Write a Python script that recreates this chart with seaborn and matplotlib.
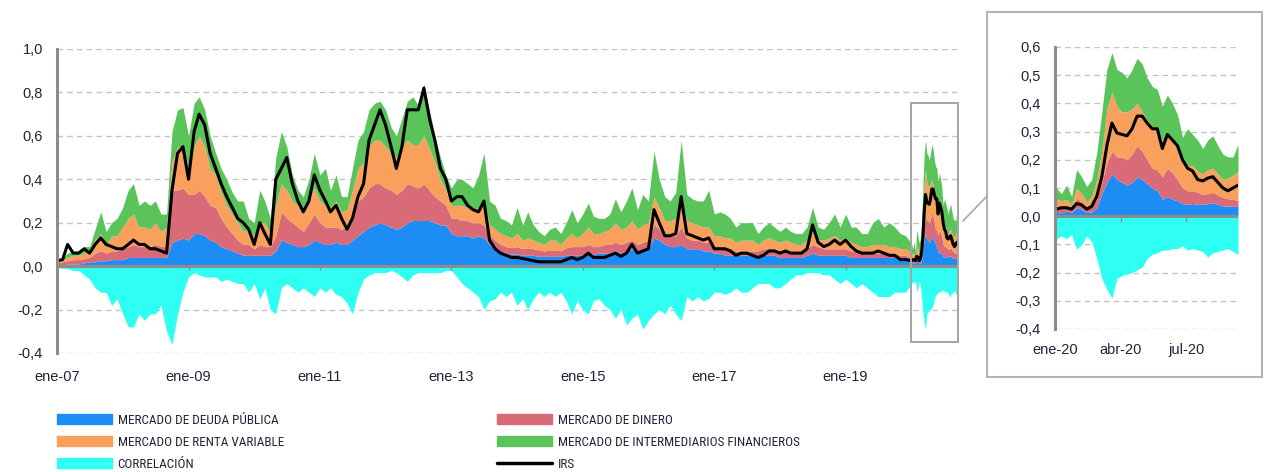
import numpy as np
import pandas as pd
import matplotlib
matplotlib.use("Agg")
import matplotlib.pyplot as plt
import matplotlib.dates as mdates
from matplotlib import font_manager as fm
from matplotlib.patches import Rectangle, Patch
from matplotlib.lines import Line2D
from matplotlib.ticker import FuncFormatter, MultipleLocator
import seaborn as sns

# monthly values 2007-2019 (one row per year)
deuda_m = [
    .005, .005, .01, .01, .01, .015, .02, .02, .025, .025, .03, .03,
    .03, .04, .04, .04, .04, .04, .04, .04, .04, .11, .12, .13,
    .12, .15, .15, .14, .12, .11, .09, .08, .07, .06, .05, .05,
    .05, .05, .05, .05, .07, .12, .11, .10, .09, .09, .10, .12,
    .11, .10, .10, .11, .10, .10, .12, .14, .16, .18, .19, .20,
    .19, .18, .17, .18, .20, .21, .21, .21, .21, .20, .19, .19,
    .15, .14, .14, .14, .13, .14, .13, .10, .08, .07, .06, .055,
    .055, .05, .05, .05, .045, .045, .045, .045, .045, .05, .05, .05,
    .05, .055, .055, .06, .06, .06, .07, .06, .07, .08, .06, .07,
    .08, .13, .12, .10, .09, .09, .10, .08, .08, .08, .07, .07,
    .06, .06, .05, .05, .05, .05, .05, .05, .05, .05, .05, .05,
    .04, .04, .04, .04, .04, .05, .06, .05, .05, .05, .05, .05,
    .05, .04, .04, .04, .04, .04, .04, .04, .04, .04, .03, .03,
]
dinero_m = [
    .01, .015, .015, .02, .02, .02, .02, .04, .045, .035, .04, .04,
    .05, .05, .06, .05, .05, .05, .06, .05, .05, .24, .23, .23,
    .21, .18, .20, .18, .16, .16, .13, .10, .08, .06, .05, .05,
    .03, .05, .04, .04, .07, .13, .11, .10, .09, .07, .10, .12,
    .09, .08, .08, .07, .07, .08, .11, .16, .16, .18, .19, .18,
    .17, .17, .16, .17, .18, .16, .15, .17, .14, .12, .11, .09,
    .07, .08, .07, .07, .07, .06, .06, .04, .04, .03, .03, .03,
    .035, .03, .035, .03, .03, .025, .03, .03, .025, .035, .04, .04,
    .04, .045, .035, .03, .04, .04, .04, .04, .04, .04, .04, .04,
    .04, .06, .05, .04, .05, .05, .08, .05, .04, .04, .04, .04,
    .03, .03, .03, .03, .02, .02, .02, .02, .02, .03, .03, .03,
    .03, .03, .03, .03, .03, .03, .04, .04, .03, .03, .03, .03,
    .03, .03, .03, .02, .02, .02, .02, .02, .02, .02, .02, .02,
]
renta_m = [
    .01, .01, .015, .02, .02, .025, .03, .06, .08, .04, .07, .07,
    .10, .13, .14, .09, .09, .08, .10, .07, .09, .13, .20, .19,
    .12, .22, .25, .23, .17, .15, .12, .10, .09, .08, .06, .07,
    .06, .10, .11, .06, .14, .13, .13, .10, .10, .08, .10, .12,
    .10, .10, .09, .12, .08, .08, .12, .15, .16, .19, .20, .20,
    .19, .17, .17, .20, .20, .19, .20, .22, .19, .16, .10, .07,
    .06, .06, .07, .06, .06, .07, .11, .05, .05, .05, .05, .045,
    .06, .04, .045, .04, .035, .03, .045, .045, .03, .045, .06, .04,
    .06, .08, .06, .06, .06, .07, .09, .07, .07, .09, .07, .08,
    .08, .13, .10, .07, .07, .08, .11, .08, .08, .07, .07, .07,
    .05, .05, .05, .05, .04, .05, .05, .05, .03, .04, .05, .04,
    .04, .05, .04, .03, .03, .04, .06, .03, .04, .05, .06, .04,
    .05, .04, .03, .03, .03, .04, .04, .04, .03, .03, .03, .03,
]
interm_m = [
    .005, .01, .02, .02, .02, .03, .02, .05, .10, .06, .06, .08,
    .09, .13, .14, .10, .12, .11, .10, .08, .06, .14, .17, .18,
    .15, .20, .18, .17, .15, .10, .11, .12, .10, .10, .14, .05,
    .06, .15, .10, .07, .22, .24, .20, .12, .07, .08, .10, .16,
    .12, .17, .08, .12, .07, .06, .10, .13, .14, .17, .17, .18,
    .17, .12, .10, .13, .18, .22, .18, .24, .18, .12, .10, .07,
    .08, .12, .12, .11, .10, .15, .22, .11, .11, .07, .07, .06,
    .12, .07, .12, .07, .05, .04, .05, .06, .05, .07, .11, .07,
    .09, .11, .08, .07, .06, .07, .11, .08, .12, .15, .09, .14,
    .10, .21, .13, .11, .09, .12, .29, .12, .11, .11, .12, .17,
    .10, .11, .11, .09, .07, .08, .08, .08, .05, .06, .07, .06,
    .05, .06, .05, .05, .05, .06, .11, .06, .05, .07, .10, .06,
    .11, .07, .08, .06, .06, .10, .12, .08, .11, .09, .07, .06,
]
correl_m = [
    -.005, -.01, -.01, -.02, -.02, -.04, -.06, -.10, -.12, -.12, -.18, -.15,
    -.22, -.28, -.28, -.22, -.25, -.22, -.22, -.18, -.30, -.36, -.22, -.12,
    -.05, -.03, -.04, -.05, -.05, -.05, -.07, -.06, -.07, -.08, -.08, -.12,
    -.08, -.15, -.10, -.20, -.22, -.10, -.08, -.10, -.12, -.10, -.12, -.14,
    -.10, -.12, -.10, -.13, -.14, -.17, -.22, -.12, -.06, -.04, -.03, -.03,
    -.03, -.02, -.03, -.05, -.07, -.04, -.03, -.03, -.03, -.03, -.03, -.02,
    -.02, -.05, -.08, -.10, -.12, -.14, -.20, -.16, -.15, -.12, -.14, -.12,
    -.18, -.15, -.20, -.15, -.12, -.14, -.12, -.14, -.12, -.16, -.22, -.16,
    -.20, -.22, -.16, -.15, -.18, -.20, -.24, -.20, -.27, -.24, -.22, -.29,
    -.25, -.22, -.20, -.22, -.18, -.22, -.25, -.14, -.16, -.14, -.16, -.15,
    -.12, -.12, -.13, -.12, -.10, -.12, -.12, -.10, -.08, -.08, -.08, -.10,
    -.10, -.08, -.06, -.04, -.04, -.03, -.03, -.03, -.04, -.04, -.06, -.08,
    -.06, -.08, -.10, -.08, -.10, -.12, -.14, -.14, -.14, -.12, -.12, -.12,
]
irs_m = [
    .025, .03, .10, .06, .06, .08, .06, .10, .13, .10, .09, .08,
    .08, .10, .12, .10, .10, .08, .08, .07, .06, .35, .52, .55,
    .40, .62, .70, .65, .52, .45, .38, .32, .27, .22, .20, .17,
    .10, .20, .15, .10, .40, .45, .50, .38, .30, .25, .30, .42,
    .35, .30, .25, .28, .22, .17, .22, .32, .38, .58, .65, .72,
    .65, .55, .45, .55, .72, .72, .72, .82, .68, .58, .45, .40,
    .30, .32, .32, .28, .26, .25, .30, .12, .08, .06, .05, .04,
    .04, .035, .03, .025, .02, .02, .02, .02, .02, .03, .04, .03,
    .04, .06, .04, .04, .04, .05, .06, .045, .06, .10, .06, .07,
    .08, .26, .20, .14, .14, .15, .32, .15, .14, .13, .12, .13,
    .08, .08, .08, .07, .05, .06, .06, .05, .04, .05, .07, .07,
    .06, .07, .06, .06, .06, .08, .19, .11, .09, .10, .12, .10,
    .12, .09, .07, .06, .06, .06, .07, .06, .05, .05, .03, .03,
]

# weekly values 2020 (zoomed panel)
deuda_w = [.013, .012, .018, .013, .03, .025, .013, .015, .03, .08, .12, .15,
           .13, .12, .11, .12, .14, .13, .115, .10, .09, .06, .07, .06, .055,
           .045, .042, .045, .042, .042, .045, .048, .042, .036, .036, .035, .035]
dinero_w = [.023, .018, .017, .012, .035, .025, .012, .02, .03, .04, .07, .08,
            .08, .09, .09, .10, .11, .10, .085, .07, .075, .08, .10, .095, .075,
            .055, .048, .045, .043, .036, .035, .037, .033, .03, .026, .025, .02]
renta_w = [.024, .025, .025, .015, .035, .03, .025, .035, .07, .11, .19, .21,
           .18, .16, .17, .16, .15, .14, .14, .15, .135, .13, .11, .115, .10,
           .09, .09, .09, .075, .072, .085, .085, .075, .064, .073, .085, .105]
interm_w = [.04, .025, .05, .03, .065, .06, .055, .06, .095, .14, .14, .14,
            .13, .14, .12, .14, .16, .17, .15, .14, .15, .12, .15, .13, .13,
            .09, .13, .11, .11, .09, .105, .115, .10, .09, .075, .065, .095]
correl_w = [-.08, -.07, -.08, -.065, -.117, -.10, -.07, -.09, -.15, -.22, -.26, -.29,
            -.22, -.21, -.205, -.20, -.19, -.18, -.15, -.135, -.13, -.12, -.12, -.115, -.115,
            -.105, -.12, -.115, -.12, -.125, -.145, -.13, -.125, -.12, -.115, -.125, -.135]
irs_w = [.025, .03, .03, .025, .045, .04, .025, .035, .07, .14, .25, .33,
         .295, .29, .285, .31, .355, .355, .33, .31, .31, .24, .29, .27, .25,
         .20, .17, .16, .13, .125, .135, .14, .12, .10, .09, .10, .11]

labels = ["MERCADO DE DEUDA PÚBLICA", "MERCADO DE DINERO",
          "MERCADO DE RENTA VARIABLE", "MERCADO DE INTERMEDIARIOS FINANCIEROS",
          "CORRELACIÓN", "IRS"]
main_ticks = ["2007-01-01", "2009-01-01", "2011-01-01", "2013-01-01",
              "2015-01-01", "2017-01-01", "2019-01-01"]
main_ticklabels = ["ene-07", "ene-09", "ene-11", "ene-13", "ene-15", "ene-17", "ene-19"]
inset_ticks = ["2020-01-01", "2020-04-01", "2020-07-01"]
inset_ticklabels = ["ene-20", "abr-20", "jul-20"]

BLUE, RED, ORANGE, GREEN, CYAN = "#1e8cf5", "#d96a78", "#f9a05c", "#5ac45a", "#2efff2"
GRAY = "#8c8c8c"
TXT = "#22223a"

sns.set_theme(style="white")
plt.rcParams["font.family"] = ["Liberation Sans", "DejaVu Sans"]

# the legend uses a condensed face if one is installed
entries = fm.fontManager.ttflist
names = {f.name for f in entries}
narrow = next((n for n in ["Liberation Sans Narrow", "Arial Narrow", "DejaVu Sans Condensed",
                           "Roboto Condensed", "Open Sans Condensed", "Noto Sans Condensed"]
               if n in names), None)
if narrow:
    legend_font = fm.FontProperties(family=narrow, size=9.5)
elif any(f.name == "DejaVu Sans" and str(f.stretch) == "condensed" for f in entries):
    legend_font = fm.FontProperties(family="DejaVu Sans", stretch="condensed", size=8.8)
else:
    legend_font = fm.FontProperties(family="Liberation Sans", size=8.6)

months = pd.date_range("2007-01-01", periods=len(deuda_m), freq="MS")
weeks = pd.date_range("2020-01-03", periods=len(deuda_w), freq="7D")
dates = months.append(weeks)

full = {
    "deuda": deuda_m + deuda_w, "dinero": dinero_m + dinero_w,
    "renta": renta_m + renta_w, "interm": interm_m + interm_w,
    "correl": correl_m + correl_w, "irs": irs_m + irs_w,
}
week = {"deuda": deuda_w, "dinero": dinero_w, "renta": renta_w,
        "interm": interm_w, "correl": correl_w, "irs": irs_w}


def comma(v, pos):
    return f"{v:.1f}".replace(".", ",")


def draw(ax, x, d, ticks, ticklabels, step):
    ax.stackplot(x, d["deuda"], d["dinero"], d["renta"], d["interm"],
                 colors=[BLUE, RED, ORANGE, GREEN], linewidth=0)
    ax.fill_between(x, d["correl"], 0, color=CYAN, linewidth=0)
    sns.lineplot(x=x, y=d["irs"], ax=ax, color="black", linewidth=2.2, legend=False)
    ax.axhline(0, color=GRAY, lw=2.2, zorder=5)
    tk = pd.to_datetime(ticks)
    ax.vlines(tk[1:], -0.02, 0.005, color=GRAY, lw=1, zorder=5)
    ax.set_xticks(tk)
    ax.set_xticklabels(ticklabels)
    ax.yaxis.set_major_locator(MultipleLocator(step))
    ax.yaxis.set_major_formatter(FuncFormatter(comma))
    ax.yaxis.grid(True, ls=(0, (4, 3)), color="#c4c4c4", lw=1)
    ax.xaxis.grid(False)
    ax.set_axisbelow(True)
    for s in ["top", "right", "bottom"]:
        ax.spines[s].set_visible(False)
    ax.spines["left"].set_color(GRAY)
    ax.spines["left"].set_linewidth(2.2)
    ax.tick_params(axis="both", length=0, labelsize=10.5, labelcolor=TXT)
    ax.tick_params(axis="y", pad=10)
    ax.set_xlabel("")
    ax.set_ylabel("")


fig = plt.figure(figsize=(12.66, 4.72), dpi=100)
W, H = 1266, 472

ax = fig.add_axes([57 / W, 1 - 353 / H, 900 / W, 304 / H])
draw(ax, dates, full, main_ticks, main_ticklabels, 0.2)
ax.tick_params(axis="x", pad=12)
ax.set_ylim(-0.4, 1.0)
ax.set_xlim(pd.Timestamp("2007-01-01"), weeks[-1])

# box marking the zoomed period
x0 = mdates.date2num(pd.Timestamp("2020-01-01"))
x1 = mdates.date2num(weeks[-1]) + 3
ax.add_patch(Rectangle((x0, -0.35), x1 - x0, 1.1, fill=False, ec="#a4a4a4",
                       lw=1.4, clip_on=False, zorder=6))

axi = fig.add_axes([1055 / W, 1 - 329 / H, 183 / W, 282 / H])
draw(axi, weeks, week, inset_ticks, inset_ticklabels, 0.1)
axi.tick_params(axis="x", pad=10)
axi.set_ylim(-0.4, 0.6)
axi.set_xlim(pd.Timestamp("2020-01-01"), weeks[-1])

fig.add_artist(Rectangle((987 / W, 1 - 377 / H), 275 / W, 365 / H,
                         transform=fig.transFigure, fill=False, ec="#b4b4b4", lw=1.5))
fig.add_artist(Line2D([963 / W, 987 / W], [1 - 221 / H, 1 - 196 / H],
                      transform=fig.transFigure, color="#a8a8a8", lw=1.2))

kw = dict(loc="upper left", frameon=False, handlelength=4.2, handleheight=0.8,
          labelspacing=0.68, handletextpad=0.4, borderpad=0, borderaxespad=0,
          prop=legend_font, labelcolor=TXT)
h1 = [Patch(color=BLUE), Patch(color=ORANGE), Patch(color=CYAN)]
h2 = [Patch(color=RED), Patch(color=GREEN), Line2D([0], [0], color="black", lw=2.5)]
fig.legend(h1, [labels[0], labels[2], labels[4]], bbox_to_anchor=(57 / W, 1 - 414 / H), **kw)
fig.legend(h2, [labels[1], labels[3], labels[5]], bbox_to_anchor=(497 / W, 1 - 414 / H), **kw)

fig.savefig("out.png", dpi=100)
